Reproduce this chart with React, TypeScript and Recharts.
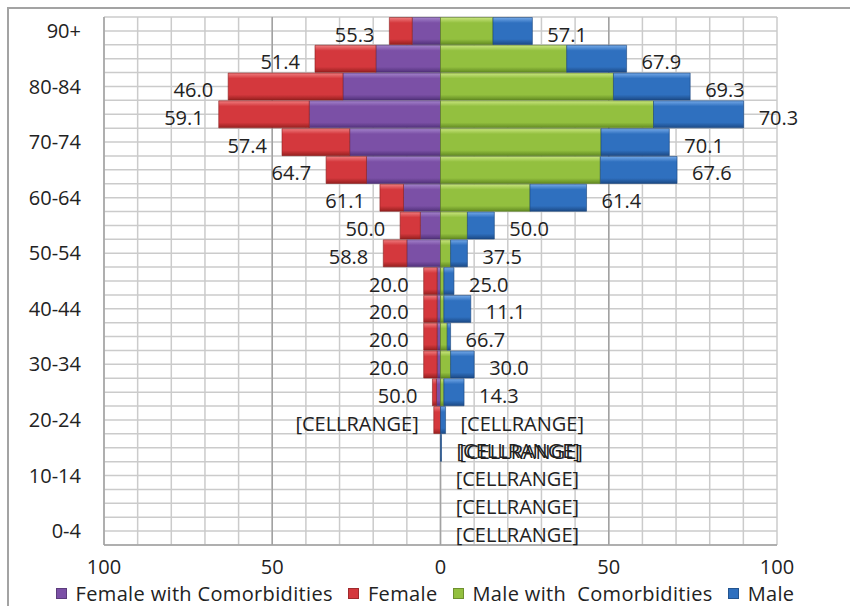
import {
  BarChart,
  Bar,
  Cell,
  XAxis,
  YAxis,
  CartesianGrid,
  Legend,
  LabelList,
} from 'recharts'

const FONT = '"Open Sans", "Noto Sans", sans-serif'
const FS = 20

// age groups, top row first
const ageGroups = [
  '90+', '85-89', '80-84', '75-79', '70-74', '65-69', '60-64', '55-59', '50-54', '45-49',
  '40-44', '35-39', '30-34', '25-29', '20-24', '15-19', '10-14', '5-9', '0-4',
]

const femaleComorb = [8.4, 19.2, 29.0, 39.0, 27.0, 22.0, 11, 6, 10, 1, 1, 1, 1, 1.2, 0, 0, 0, 0, 0]
const femaleTotal = [15.2, 37.3, 63.1, 65.9, 47.1, 34.0, 18, 12, 17, 5, 5, 5, 5, 2.4, 2, 0, 0, 0, 0]
const maleComorb = [15.6, 37.5, 51.4, 63.3, 47.7, 47.5, 26.6, 8, 3, 1, 1, 2, 3, 1, 0, 0, 0, 0, 0]
const maleTotal = [27.3, 55.3, 74.2, 90.1, 68.0, 70.3, 43.4, 16, 8, 4, 9, 3, 10, 7, 1.5, 0.3, 0, 0, 0]

const femaleLabels = [
  '55.3', '51.4', '46.0', '59.1', '57.4', '64.7', '61.1', '50.0', '58.8', '20.0',
  '20.0', '20.0', '20.0', '50.0', '[CELLRANGE]', '', '', '', '',
]
const maleLabels = [
  '57.1', '67.9', '69.3', '70.3', '70.1', '67.6', '61.4', '50.0', '37.5', '25.0',
  '11.1', '66.7', '30.0', '14.3', '[CELLRANGE]', '[CELLRANGE]', '[CELLRANGE]', '[CELLRANGE]', '[CELLRANGE]',
]
// second label drawn over the 15-19 one in the original
const overlapLabels = ['', '', '', '', '', '', '', '', '', '', '', '', '', '', '', '[CELLRANGE]', '', '', '']

const seriesNames = ['Female with Comorbidities', 'Female', 'Male with  Comorbidities', 'Male']

const xTicks = [-100, -90, -80, -70, -60, -50, -40, -30, -20, -10, 0, 10, 20, 30, 40, 50, 60, 70, 80, 90, 100]

const data = ageGroups.map((age, i) => ({
  age,
  fCom: femaleComorb[i] ? -femaleComorb[i] : 0,
  fRest: femaleTotal[i] - femaleComorb[i] ? -(femaleTotal[i] - femaleComorb[i]) : 0,
  mCom: maleComorb[i],
  mRest: maleTotal[i] - maleComorb[i],
  fLabel: femaleLabels[i],
  mLabel: maleLabels[i],
  mLabel2: overlapLabels[i],
}))

const colors = {
  purple: ['#a383cb', '#7b50a6', '#51317a'],
  red: ['#f07d7f', '#d4383d', '#96201f'],
  green: ['#c9e57f', '#93c03f', '#628a22'],
  blue: ['#74a9e8', '#2f70bf', '#1c4a86'],
}
const swatches = [colors.purple[1], colors.red[1], colors.green[1], colors.blue[1]]

function Grad({ id, c }: { id: string; c: string[] }) {
  return (
    <linearGradient id={id} x1="0" y1="0" x2="0" y2="1">
      <stop offset="0%" stopColor={c[0]} />
      <stop offset="20%" stopColor={c[1]} />
      <stop offset="80%" stopColor={c[1]} />
      <stop offset="100%" stopColor={c[2]} />
    </linearGradient>
  )
}

const labelText = { fontFamily: FONT, fontSize: FS, fill: '#222' }

const leftLabel = (p: any) => {
  if (!p.value) return null
  const left = Math.min(p.x, p.x + p.width)
  return (
    <text x={left - 15} y={p.y + p.height / 2 + 3} textAnchor="end" dominantBaseline="central" style={labelText}>
      {p.value}
    </text>
  )
}

const rightLabel = (shift: number) => (p: any) => {
  if (!p.value) return null
  const right = Math.max(p.x, p.x + p.width)
  return (
    <text x={right + 15 + shift} y={p.y + p.height / 2 + 3 + shift / 3} dominantBaseline="central" style={labelText}>
      {p.value}
    </text>
  )
}

function LegendBox() {
  return (
    <div style={{ display: 'flex', justifyContent: 'center', alignItems: 'center', height: 26, fontFamily: FONT, fontSize: FS, color: '#222', letterSpacing: 0.35 }}>
      {seriesNames.map((name, i) => (
        <div key={name} style={{ display: 'flex', alignItems: 'center', marginRight: i < 3 ? 15 : 0 }}>
          <span style={{ width: 11, height: 11, background: swatches[i], border: '1px solid rgba(0,0,0,0.25)', marginRight: 9, boxSizing: 'border-box' }} />
          <span style={{ whiteSpace: 'pre' }}>{name}</span>
        </div>
      ))}
    </div>
  )
}

export default function App() {
  return (
    <div style={{ position: 'relative', width: 850, height: 606, background: '#fff' }}>
      <style>{'body{margin:0}'}</style>
      <div style={{ position: 'absolute', left: 7, top: 7, right: 0, bottom: 0, borderTop: '2px solid #a3a3a3', borderLeft: '2px solid #a3a3a3' }} />
      <div style={{ position: 'absolute', left: 0, top: 0 }}>
        <BarChart
          width={850}
          height={606}
          data={data}
          layout="vertical"
          stackOffset="sign"
          barCategoryGap={0.5}
          margin={{ top: 17, right: 73, left: 0, bottom: 5 }}
        >
          <defs>
            <Grad id="gPurple" c={colors.purple} />
            <Grad id="gRed" c={colors.red} />
            <Grad id="gGreen" c={colors.green} />
            <Grad id="gBlue" c={colors.blue} />
          </defs>
          <CartesianGrid
            stroke="#cbcbcb"
            strokeWidth={1.5}
            horizontalCoordinatesGenerator={({ offset }: any) =>
              Array.from({ length: ageGroups.length * 2 + 1 }, (_, k) => offset.top + (k * offset.height) / (ageGroups.length * 2))
            }
          />
          <CartesianGrid
            horizontal={false}
            stroke="#a2a2a2"
            strokeWidth={1.5}
            verticalCoordinatesGenerator={({ offset }: any) =>
              [-50, 0, 50].map((v) => offset.left + ((v + 100) / 200) * offset.width)
            }
          />
          <XAxis
            type="number"
            domain={[-100, 100]}
            ticks={xTicks}
            interval={0}
            height={30}
            tickSize={0}
            tickMargin={15}
            tickFormatter={(v: number) => (v % 50 === 0 ? String(Math.abs(v)) : '')}
            tick={{ fontFamily: FONT, fontSize: FS, fill: '#222' }}
            axisLine={{ stroke: '#a2a2a2', strokeWidth: 1.5 }}
          />
          <YAxis
            type="category"
            dataKey="age"
            width={104}
            interval={1}
            tickSize={0}
            tickMargin={23}
            tick={{ fontFamily: FONT, fontSize: FS, fill: '#222' }}
            axisLine={{ stroke: '#a2a2a2', strokeWidth: 1.5 }}
          />
          <Legend content={<LegendBox />} wrapperStyle={{ left: 0, bottom: 0, width: 850 }} />
          <Bar dataKey="fCom" name={seriesNames[0]} stackId="a" fill="url(#gPurple)" stroke="#4a2d6e" strokeWidth={0.6} isAnimationActive={false} />
          <Bar dataKey="fRest" name={seriesNames[1]} stackId="a" fill="url(#gRed)" stroke="#8a1e1e" strokeWidth={0.6} isAnimationActive={false}>
            <LabelList dataKey="fLabel" content={leftLabel} />
          </Bar>
          <Bar dataKey="mCom" name={seriesNames[2]} stackId="a" fill="url(#gGreen)" stroke="#5a7d20" strokeWidth={0.6} isAnimationActive={false} />
          <Bar dataKey="mRest" name={seriesNames[3]} stackId="a" fill="url(#gBlue)" stroke="#1a457c" strokeWidth={0.6} minPointSize={0.2} isAnimationActive={false}>
            {data.map((d) => (
              <Cell
                key={d.age}
                fill={d.mRest ? 'url(#gBlue)' : 'none'}
                stroke={d.mRest ? '#1a457c' : 'none'}
              />
            ))}
            <LabelList dataKey="mLabel" content={rightLabel(0)} />
            <LabelList dataKey="mLabel2" content={rightLabel(3)} />
          </Bar>
        </BarChart>
      </div>
    </div>
  )
}
